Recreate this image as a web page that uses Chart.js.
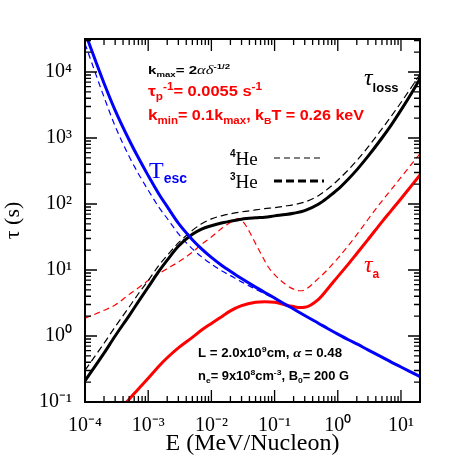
<!DOCTYPE html>
<html>
<head>
<meta charset="utf-8">
<style>
  html, body { margin: 0; padding: 0; background: #fff; }
  #wrap { width: 458px; height: 458px; }
</style>
</head>
<body>
<div id="wrap"><canvas id="chart" width="458" height="458"></canvas></div>
<script src="https://cdn.jsdelivr.net/npm/chart.js@4/dist/chart.umd.min.js"></script>
<script>
// energies in MeV/nucleon, times in seconds
const energy = [1e-4, 2e-4, 3e-4, 5e-4, 7e-4, 1e-3, 1.5e-3, 2e-3, 3e-3, 5e-3, 7e-3, 0.01, 0.015, 0.02, 0.03, 0.05, 0.07, 0.1, 0.15, 0.2, 0.3, 0.5, 0.7, 1, 1.5, 2, 3, 5, 7, 10, 15, 20];

const escape3He = [39800, 6760, 2630, 933, 501, 269, 138, 91.2, 51.3, 28.8, 20.9, 15.5, 11.5, 9.55, 7.41, 5.50, 4.57, 3.76, 2.99, 2.57, 2.04, 1.55, 1.29, 1.07, 0.871, 0.759, 0.617, 0.479, 0.403, 0.339, 0.279, 0.243];
const escape4He = [26900, 4170, 1510, 525, 288, 162, 87.1, 60.3, 35.5, 20.9, 15.8, 12.3, 9.55, 8.22, 6.61, 5.13, 4.37, 3.67, 2.99, 2.57, 2.04, 1.55, 1.29, 1.07, 0.871, 0.759, 0.617, 0.479, 0.403, 0.339, 0.279, 0.243];

const loss3He = [0.209, 0.550, 1.00, 2.04, 3.31, 5.50, 9.77, 14.1, 22.9, 34.7, 41.7, 46.8, 51.9, 55.0, 58.9, 61.7, 63.1, 66.1, 69.2, 72.4, 79.4, 100, 126, 166, 244, 329, 526, 1000, 1570, 2640, 4940, 7920];
const loss4He = [0.302, 0.776, 1.38, 2.75, 4.37, 6.92, 12.0, 16.6, 25.7, 39.8, 50.1, 59.6, 66.8, 70.8, 75.9, 81.3, 85.1, 88.1, 93.3, 97.7, 107, 135, 170, 229, 337, 454, 726, 1380, 2130, 3450, 6080, 9200];

const accelEnergy3He = [3e-4, 5e-4, 7e-4, 1e-3, 1.5e-3, 2e-3, 3e-3, 5e-3, 7e-3, 0.01, 0.015, 0.02, 0.03, 0.05, 0.07, 0.1, 0.15, 0.2, 0.25, 0.3, 0.5, 0.7, 1, 1.5, 2, 3, 5, 7, 10, 15, 20];
const accel3He = [0.0646, 0.110, 0.158, 0.229, 0.355, 0.468, 0.661, 0.955, 1.23, 1.55, 2.00, 2.40, 2.88, 3.24, 3.31, 3.24, 2.95, 2.79, 2.70, 2.72, 3.63, 5.25, 7.94, 12.6, 17.8, 28.8, 53.7, 79.4, 120, 195, 275];

const accelEnergy4He = [1e-4, 2e-4, 3e-4, 5e-4, 7e-4, 1e-3, 1.5e-3, 2e-3, 3e-3, 5e-3, 7e-3, 0.01, 0.015, 0.02, 0.027, 0.033, 0.041, 0.05, 0.063, 0.079, 0.1, 0.15, 0.2, 0.25, 0.3, 0.5, 0.7, 1, 1.5, 2, 3, 5, 7, 10, 15, 20];
const accel4He = [1.86, 2.45, 2.95, 4.27, 5.37, 6.92, 8.91, 10.5, 13.2, 18.6, 24.5, 31.6, 43.7, 52.5, 60.3, 51.3, 36.3, 25.1, 16.6, 11.2, 8.51, 6.03, 5.13, 4.85, 5.01, 7.52, 10.3, 15.0, 24.0, 34.3, 58.2, 111, 165, 254, 412, 581];

const xTickValues = [1e-4, 1e-3, 1e-2, 1e-1, 1, 10];
const xTickLabels = ['10⁻⁴', '10⁻³', '10⁻²', '10⁻¹', '10⁰', '10¹'];
const yTickValues = [0.1, 1, 10, 100, 1000, 10000];
const yTickLabels = ['10⁻¹', '10⁰', '10¹', '10²', '10³', '10⁴'];
const xMin = 1e-4, xMax = 20;
const yMin = 0.1, yMax = 31623;

const RED = '#ff0000';
const BLUE = '#0000ff';
const BLACK = '#000000';
const SANS = '"Liberation Sans", Arial, sans-serif';
const SERIF = '"Liberation Serif", "Times New Roman", serif';

const toPoints = (xs, ys) => xs.map((x, i) => ({ x, y: ys[i] }));

const line = (label, xs, ys, color, width, dash) => ({
    label,
    data: toPoints(xs, ys),
    borderColor: color,
    borderWidth: width,
    borderDash: dash,
    pointRadius: 0,
    cubicInterpolationMode: 'monotone',
    fill: false,
    clip: 0,
});

// first dataset is drawn on top
const datasets = [
    line('T_esc 3He', energy, escape3He, BLUE, 3, []),
    line('tau_a 3He', accelEnergy3He, accel3He, RED, 3, []),
    line('tau_loss 3He', energy, loss3He, BLACK, 3, []),
    line('T_esc 4He', energy, escape4He, BLUE, 1.2, [6, 4]),
    line('tau_loss 4He', energy, loss4He, BLACK, 1.2, [7, 4]),
    line('tau_a 4He', accelEnergy4He, accel4He, RED, 1.2, [6, 4]),
];

function drawRich(ctx, x, y, parts, color, width) {
    ctx.save();
    ctx.fillStyle = color;
    ctx.textAlign = 'left';
    ctx.textBaseline = 'alphabetic';
    let total = 0;
    parts.forEach(([t, f]) => { ctx.font = f; total += ctx.measureText(t).width; });
    const k = width ? width / total : 1;
    ctx.translate(x, y);
    ctx.scale(k, 1);
    let cx = 0;
    parts.forEach(([t, f, dy]) => {
        ctx.font = f;
        ctx.fillText(t, cx, dy || 0);
        cx += ctx.measureText(t).width;
    });
    ctx.restore();
}

const framePlugin = {
    id: 'frame',
    afterDatasetsDraw(chart) {
        const { ctx, chartArea: a, scales: { x, y } } = chart;
        ctx.save();
        ctx.strokeStyle = BLACK;
        ctx.lineWidth = 1.3;
        ctx.beginPath();
        for (let n = -4; n <= 1; n++) {
            for (let d = 1; d <= 9; d++) {
                const v = d * Math.pow(10, n);
                if (v < xMin * 0.999 || v > xMax) continue;
                const px = x.getPixelForValue(v);
                const len = d === 1 ? 12 : 6;
                ctx.moveTo(px, a.bottom); ctx.lineTo(px, a.bottom - len);
                ctx.moveTo(px, a.top); ctx.lineTo(px, a.top + len);
            }
        }
        for (let n = -1; n <= 4; n++) {
            for (let d = 1; d <= 9; d++) {
                const v = d * Math.pow(10, n);
                if (v < yMin * 0.999 || v > yMax) continue;
                const py = y.getPixelForValue(v);
                const len = d === 1 ? 12 : 6;
                ctx.moveTo(a.left, py); ctx.lineTo(a.left + len, py);
                ctx.moveTo(a.right, py); ctx.lineTo(a.right - len, py);
            }
        }
        ctx.stroke();
        ctx.lineWidth = 2;
        ctx.strokeRect(a.left, a.top, a.right - a.left, a.bottom - a.top);
        ctx.restore();
    },
    afterDraw(chart) {
        const ctx = chart.ctx;
        const b = (s) => `bold ${s}px ${SANS}`;

        drawRich(ctx, 148, 74, [
            ['k', b(11)], ['max', b(7), 3], ['= 2', b(11)],
            ['αδ', `italic 12px ${SERIF}`], ['-1/2', b(7), -5],
        ], BLACK, 82);

        drawRich(ctx, 148, 96, [
            ['τ', b(15)], ['p', b(10), 4], ['-1', b(10), -6],
            ['= 0.0055 s', b(14)], ['-1', b(10), -6],
        ], RED, 114);

        drawRich(ctx, 148, 120, [
            ['k', b(15)], ['min', b(10), 4], ['= 0.1k', b(14)], ['max', b(10), 4],
            [', k', b(14)], ['B', b(9), 4], ['T = 0.26 keV', b(14)],
        ], RED, 216);

        drawRich(ctx, 198, 357, [
            ['L = 2.0x10', b(12)], ['9', b(8), -5], ['cm, ', b(12)],
            ['α', `italic bold 13px ${SERIF}`], [' = 0.48', b(12)],
        ], BLACK, 144);

        drawRich(ctx, 198, 380, [
            ['n', b(12)], ['e', b(8), 3], ['= 9x10', b(12)], ['8', b(8), -5],
            ['cm', b(12)], ['-3', b(8), -5], [', B', b(12)], ['0', b(8), 3],
            ['= 200 G', b(12)],
        ], BLACK, 151);

        drawRich(ctx, 149, 178, [['T', `24px ${SERIF}`], ['esc', b(14), 5]], BLUE);
        drawRich(ctx, 364, 85, [['τ', `italic 24px ${SERIF}`], ['loss', b(13), 7]], BLACK);
        drawRich(ctx, 364, 272, [['τ', `italic 24px ${SERIF}`], ['a', b(12), 6]], RED);

        drawRich(ctx, 230, 165, [['4', b(10), -8], ['He', `19px ${SERIF}`]], BLACK);
        drawRich(ctx, 230, 188, [['3', b(10), -8], ['He', `19px ${SERIF}`]], BLACK);

        ctx.save();
        ctx.strokeStyle = BLACK;
        ctx.lineWidth = 1.2;
        ctx.setLineDash([6, 4]);
        ctx.beginPath(); ctx.moveTo(274, 158); ctx.lineTo(324, 158); ctx.stroke();
        ctx.lineWidth = 3;
        ctx.setLineDash([8, 4]);
        ctx.beginPath(); ctx.moveTo(274, 181); ctx.lineTo(324, 181); ctx.stroke();
        ctx.restore();
    },
};

new Chart(document.getElementById('chart'), {
    type: 'line',
    data: { datasets },
    options: {
        responsive: false,
        animation: false,
        devicePixelRatio: 1,
        layout: { padding: { top: 39, right: 38, left: 0, bottom: 0 } },
        plugins: {
            legend: { display: false },
            tooltip: { enabled: false },
        },
        scales: {
            x: {
                type: 'logarithmic',
                min: xMin,
                max: xMax,
                afterBuildTicks(scale) {
                    scale.ticks = xTickValues.map((value) => ({ value }));
                },
                afterFit(scale) { scale.height = 56; },
                ticks: {
                    callback: (value, index) => xTickLabels[index],
                    autoSkip: false,
                    maxRotation: 0,
                    minRotation: 0,
                    padding: 12,
                    color: BLACK,
                    font: { family: SERIF, size: 20 },
                },
                grid: { display: false, drawTicks: false },
                border: { display: false },
                title: {
                    display: true,
                    text: 'E (MeV/Nucleon)',
                    color: BLACK,
                    padding: 0,
                    font: { family: SERIF, size: 24 },
                },
            },
            y: {
                type: 'logarithmic',
                min: yMin,
                max: yMax,
                afterBuildTicks(scale) {
                    scale.ticks = yTickValues.map((value) => ({ value }));
                },
                afterFit(scale) { scale.width = 85; },
                ticks: {
                    callback: (value, index) => yTickLabels[index],
                    autoSkip: false,
                    padding: 13,
                    color: BLACK,
                    font: { family: SERIF, size: 20 },
                },
                grid: { display: false, drawTicks: false },
                border: { display: false },
                title: {
                    display: true,
                    text: 'τ (s)',
                    color: BLACK,
                    padding: 0,
                    font: { family: SERIF, size: 22 },
                },
            },
        },
    },
    plugins: [framePlugin],
});
</script>
</body>
</html>
